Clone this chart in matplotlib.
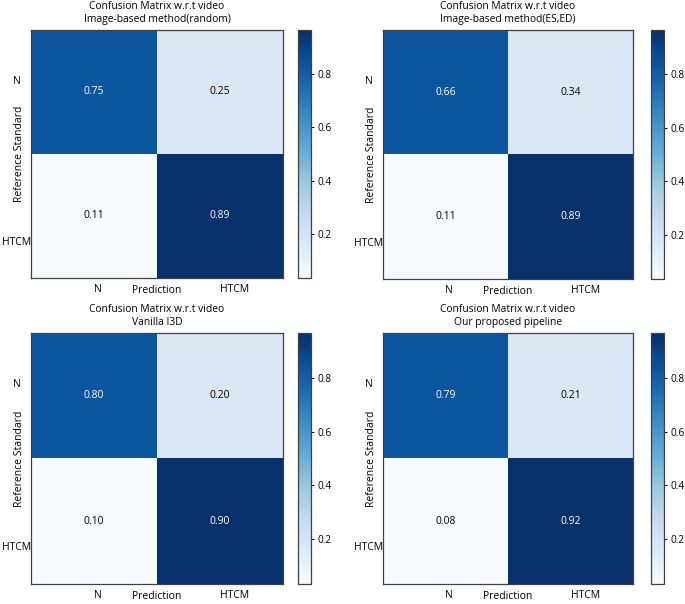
import matplotlib
matplotlib.use("Agg")
import matplotlib.pyplot as plt
import numpy as np

plt.rcParams['font.family'] = ['Open Sans', 'DejaVu Sans']

classes = ["N", "HTCM"]
subtitles = ["Image-based method(random)", "Image-based method(ES,ED)",
             "Vanilla I3D", "Our proposed pipeline"]
# values printed in the cells
cm_random = [[0.75, 0.25], [0.11, 0.89]]
cm_esed = [[0.66, 0.34], [0.11, 0.89]]
cm_i3d = [[0.80, 0.20], [0.10, 0.90]]
cm_ours = [[0.79, 0.21], [0.08, 0.92]]
matrices = [cm_random, cm_esed, cm_i3d, cm_ours]
# cell shading (identical in all four panels)
shade_values = [[0.83, 0.17], [0.035, 0.965]]
cbar_ticks = [0.2, 0.4, 0.6, 0.8]

W, H = 685, 604
fig = plt.figure(figsize=(W / 100, H / 100), dpi=100)

# axes boxes in pixels: (left, top, right, bottom)
ax_boxes = [(31, 30, 283, 278), (383, 30, 633, 279),
            (31, 333, 283, 584), (383, 333, 633, 584)]
cb_lefts = [298, 651, 298, 651]

for i, (cm, sub) in enumerate(zip(matrices, subtitles)):
    l, t, r, b = ax_boxes[i]
    ax = fig.add_axes([l / W, 1 - b / H, (r - l) / W, (b - t) / H])
    data = np.array(cm)
    im = ax.imshow(np.array(shade_values), cmap='Blues',
                   interpolation='nearest', aspect='auto')
    ax.set_title("Confusion Matrix w.r.t video\n" + sub, fontsize=7.4,
                 pad=5.5, linespacing=1.3)
    thresh = data.max() / 2.0
    for y in range(data.shape[0]):
        for x in range(data.shape[1]):
            ax.text(x, y, f"{data[y, x]:.2f}", ha='center', va='center',
                    fontsize=7.5, color='white' if data[y, x] > thresh else 'black')
    ax.set_xticks([0, 1])
    ax.set_xticklabels(classes, ha='left', fontsize=7.5)
    ax.set_yticks([-0.1, 1.2])
    ax.set_yticklabels(classes, ha='center', fontsize=7.5)
    ax.set_xlim(-0.5, 1.5)
    ax.set_ylim(1.5, -0.5)
    ax.tick_params(axis='x', length=0, pad=4)
    ax.tick_params(axis='y', length=0, pad=10.5)
    ax.set_xlabel("Prediction", fontsize=7.5, va='center')
    ax.xaxis.set_label_coords(0.5, -0.05)
    ax.set_ylabel("Reference Standard", fontsize=7.5, va='center')
    ax.yaxis.set_label_coords(-0.046, 0.5)
    for sp in ax.spines.values():
        sp.set_color('#404040')
        sp.set_linewidth(0.9)

    cax = fig.add_axes([cb_lefts[i] / W, 1 - b / H, 13 / W, (b - t) / H])
    cb = fig.colorbar(im, cax=cax, ticks=cbar_ticks)
    cb.ax.tick_params(labelsize=7.3, length=2.5, width=0.7, pad=2)
    cb.outline.set_edgecolor('#404040')
    cb.outline.set_linewidth(0.9)

fig.savefig("out.png", dpi=100)
